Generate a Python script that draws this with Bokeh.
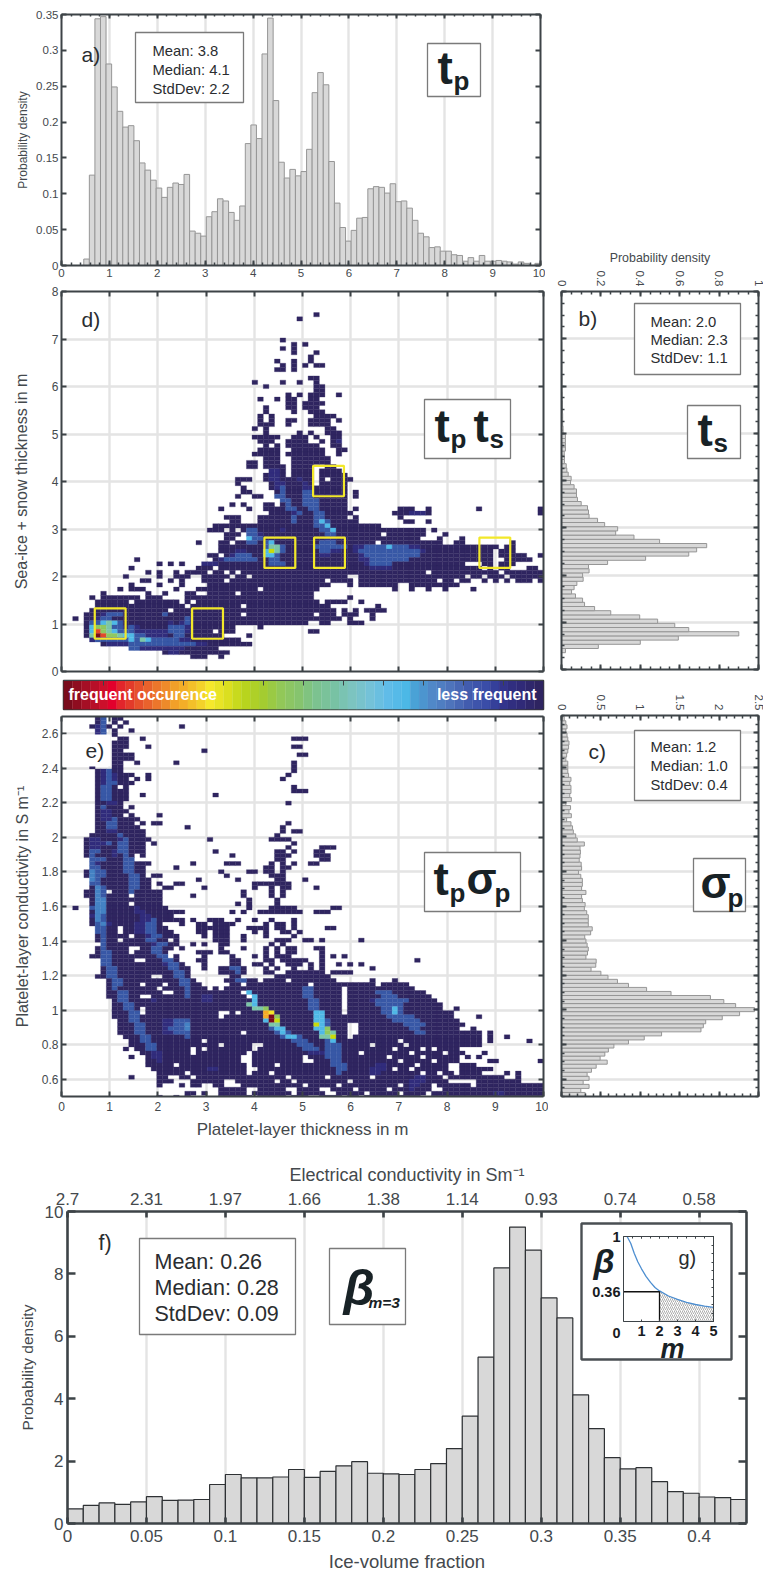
import math
import numpy as np
from bokeh.plotting import figure
from bokeh.models import (Range1d, LinearAxis, FixedTicker, Grid, Label, BoxAnnotation, Column,
                          ColumnDataSource)
from bokeh.embed import file_html
from bokeh.resources import INLINE

FONT = "Liberation Sans"
TXT = "#44494d"
AX = "#3d4347"

# ---------------- histogram values ----------------
TP_DENS = [0, 0, 0, 0, .009, .126, .344, .347, .281, .249, .215, .193, .195, .174, .143, .133, .119, .108, .095, .109,
           .115, .113, .127, .048, .045, .041, .068, .075, .093, .090, .074, .063, .083, .170, .196, .177, .295, .345,
           .230, .144, .122, .134, .125, .131, .162, .241, .269, .252, .145, .087, .053, .034, .049, .066, .067, .107,
           .110, .109, .101, .114, .089, .090, .080, .063, .045, .040, .025, .026, .020, .020, .015, .014, .006, .011,
           .006, .014, .006, .006, .007, .006, .005, .002, .005, .003, 0, .003]
TS_DENS = [0, 0, 0, 0, .02, .187, .40, .593, .90, .646, .575, .488, .397, .25, .168, .117, .107, .071, .051, .064, .078,
           .11, .107, .14, .137, .234, .427, .646, .686, .737, .498, .368, .275, .285, .219, .183, .14, .137, .132, .10,
           .081, .076, .076, .064, .046, .049, .034, .027, .024, .015, .015, .014, .02, .02, .02, .02, .008, .008, .006,
           .006, .006, .005, .005, .005, .004, .004, .003, .003, .003, .003, .002, .002, .002, .002, .002, .002, .001, .001]
SP_DENS = [.30, .245, .35, .275, .35, .325, .38, .44, .58, .49, .55, .595, .665, .85, 1.05, 1.27, 1.77, 1.80, 1.83, 2.04,
           2.26, 2.45, 2.21, 2.06, 1.89, 1.39, 1.08, .85, .71, .59, .50, .375, .435, .44, .31, .33, .34, .325, .31, .295,
           .37, .39, .34, .34, .34, .32, .29, .30, .265, .255, .31, .255, .265, .265, .245, .215, .255, .25, .225, .235,
           .24, .235, .29, .20, .18, .15, .14, .12, .065, .125, .095, .115, .055, .125, .105, .12, .12, .105, .12, .09,
           .08, .08, .08, .055, .065, .08, .09, .095, .08, .07, .055, .07, .055, .035]
BETA_DENS = [.47, .58, .66, .61, .69, .86, .74, .75, .77, 1.25, 1.57, 1.46, 1.46, 1.49, 1.73, 1.48, 1.67, 1.85, 1.98, 1.61,
             1.59, 1.57, 1.73, 1.92, 2.40, 3.44, 5.33, 8.19, 9.50, 8.76, 7.23, 6.59, 4.12, 3.04, 2.11, 1.75, 1.79, 1.34,
             1.02, .97, .85, .83, .77]
TOP_COND = ["2.7", "2.31", "1.97", "1.66", "1.38", "1.14", "0.93", "0.74", "0.58"]
CURVE_M = [.2, .4, .6, .8, 1, 1.25, 1.5, 1.75, 2, 2.5, 3, 3.5, 4, 4.5, 5]
CURVE_B = [1, .92, .80, .70, .62, .53, .46, .40, .36, .30, .26, .225, .20, .18, .165]

# ---------------- 2-D histograms: "a-b" run of level 1, "c" one cell, "c:str" levels from column c ('.'=empty)
LEVEL_COLORS = {"1": "#2f2560", "2": "#312c7c", "3": "#3858a6", "c": "#4482c4", "4": "#4fb8e6", "5": "#7cc6a8", "6": "#8fc860",
                "7": "#c9dc0a", "8": "#f5e62a", "9": "#f6ac25", "a": "#e2482a", "b": "#7a0c1c"}
D_ROWS = {
 84: "45", 83: "42", 78: "39", 77: "41 43", 76: "39 41", 75: "41 45", 74: "44", 73: "38 41 44", 72: "39 41 43 45-46",
 71: "38-39 41", 69: "44-45", 68: "34 39 42 45", 67: "36 45-46", 66: "45-46", 65: "40 42 44-46 49",
 64: "35 38 40-41 44-45", 63: "40-41 43-46", 62: "36 40-41 43-45", 61: "36 41 44-46", 60: "35 37 45-48",
 59: "35 37 40-41 44-47 49", 58: "35-37 40 44-47", 57: "34 36 47-48", 56: "36 42 44 47-49",
 55: "34-38 41-43 45 48-49", 54: "35-37 40-43 46 48-49 49:2", 53: "36 38 40-45 48-49", 52: "35-38 41-46 49-50",
 51: "34-38 40-46 49", 50: "36-38 41-47", 49: "33-34 36-38 41-47", 48: "33-34 36-39 41-44 47-48",
 47: "37-39 41-44 46-49 37:22", 46: "36-39 41-44 46-50 37:22", 45: "31-33 36-44 46 48-51 37:22 41:12",
 44: "31 37-44 46-50 38:22 42:12", 43: "32 37-50 38:23 43:22", 42: "32-33 38-50 52 39:3 43:33",
 41: "31 34-35 38-50 52 38:33 43:33", 40: "39-50 39:33 43:333", 39: "30 32 36-37 39-50 40:3 43:333",
 38: "28 33 36-50 52 60-62 65 74 85 40:33 44:33", 37: "37-51 59-61 62:222 65 85 41:23 45:33",
 36: "29-31 35-50 52 60 41:3 45:33", 35: "30-31 35-52 61-62 65 41:3 45:343",
 34: "27-56 45:334", 33: "26-28 30 32-57 58-64 66 33:33 46:334 39:2",
 32: "29-31 33-53 54-56 58-64 68 33:33 35:2 47:33", 31: "29-30 33-55 56-63 67 71 33:433 47:22",
 30: "24 28-29 31-55 57-67 70-71 80 33:33 36:34 46:333", 29: "28-77 79-80 36:355 39:3 45:333333 52:223333433322",
 28: "28-76 78-80 36:4753 31:22 46:3322 52:2333333333332 77:. ", 27: "26-27 29-76 78-82 85 30:2333 36:443 46:22 53:23333333333",
 26: "13 27-76 79-83 28:2333333 37:33 53:223333333 77:.", 25: "17 19 21 25-71 75-76 78-80 25:222 37:333 54:23333",
 24: "12 24-71 72-79 83-84 55:2222 27:. 75:. 77:. ", 23: "15 17 20 22-25 27-28 30 32-85 65:. 78:.",
 22: "11 17 20-22 25-50 53-85 72:. 75:. 79:. 33:. 30:. ", 21: "14-15 19 21 25-46 48-51 53-66 68-69 71-72 75 77 79 81-83 85 29:. ",
 20: "12 17 21 26-47 51 53-59 62-70", 19: "10 12-14 20 24-45 59 62 65 68 73 35:.", 18: "7 15 18 22-23 26-44 31:.",
 17: "5 7-13 15-17 22-23 24-44 51", 16: "6-11 13-20 22 24-45 47-49 50 53 12:.", 15: "6-21 23-44 45-47 56 32:.",
 14: "5-18 20-48 50 52 54-57", 13: "4-44 46-48 50-52 55 7:2333 18:3 32:. ", 12: "2 4-44 45-49 51 55 6:233 22:3",
 11: "4-43 46-47 51-53 5:33454 10:3 19:2 21:23", 10: "4-30 35 5:4665332 12:32 19:3332",
 9: "4-30 44-45 5:4a654333222222 19:3332 27:.", 8: "4-28 33 5:5ba66544332222 20:33",
 7: "5-31 5:233333343543333322", 6: "7-33 7:1222233333333333322", 5: "12-27 12:3322222222",
 4: "18-29 19:22", 3: "23-25 28"}
E_ROWS = {
 0: "6-7 9-10 7:3", 1: "6-7 9 11 7:3", 2: "5-7 8 10 21 6:23", 3: "6-7 9 12 6:23", 4: "6-7 9 6:23", 5: "10-11 14 41-43",
 6: "9-11", 7: "9-11 15 41-42", 8: "9-10 25", 9: "9-12 42-43", 10: "9-12", 11: "9-10 13 20 41", 12: "5 9-10 41",
 13: "6-10 41 7:23", 14: "6-12 15 40 7:232", 15: "6-11 13 15 39 7:232", 16: "6-12 7:233", 17: "6-9 11 41 7:33",
 18: "6-11 41-43 7:33", 19: "6-11 14 27 7:33", 20: "6-11 7:33", 21: "6-10 40 8:22", 22: "6-10 12 7:3", 23: "6-11 7:22",
 24: "6-10 12 17 7:22", 25: "6-13 7:223", 26: "6-12 14 16-17 40 8:33", 27: "6-13 22 39 8:33", 28: "6-14 39 41-42 8:22",
 29: "5-14 38 10:3", 30: "4-15 26 37-40 5:22 10:23", 31: "4-14 16 41 5:2222 8:3 10:33", 32: "4-14 40 46-48 5:22 10:33",
 33: "4-14 27 38-39 41 45-46 5:33 9:2 10:33", 34: "4-12 14 30 38-40 45-47 5:3 9:2 11:3", 35: "5-12 38-39 46-47 5:333 11:33",
 36: "5-15 23 29-31 37 39 41 44-45 5:32 11:33", 37: "5-14 20 36-37 39-40 5:33 11:33", 38: "4-14 28 33-34 36-37 39 5:c33 11:33",
 39: "4-14 16-17 29 37-39 5:c33 12:33", 40: "5-15 24 31 38-39 43 5:c3 12:33", 41: "5-15 17 20-21 34-40 5:33 12:33",
 42: "5-15 18-19 25 34 37 39-40 45 6:c3 12:33", 43: "4-17 32 37 39 6:c3 12:3 8:.", 44: "4-17 23 32 37 39 6:c3 12:.",
 45: "5-17 33 38 6:cc", 46: "5-17 31 33 38 6:cc 12:.", 47: "2 5-18 33 37-41 48-49 5:3cc 13:2", 48: "5-21 30 32 35-42 45-47 6:cc 13:22",
 49: "5-19 5:2 6:c3 14:22", 50: "5-21 23 26-28 31 34 37 41 6:c3 14:223", 51: "5-17 21 24-25 27-30 36 38-39 41 6:3c 8:2 13:2233",
 52: "6-18 24-29 33-36 38-39 41 47-48 6:33 13:2233 10:.", 53: "6-19 24-25 27-29 34 36 39-40 42 6:33 13:2233 10:.",
 54: "6-20 25 27-29 32 36 41 7:3 12:. 15:233", 55: "6-18 20 27-29 32 38-40 43-44 46 53 7:3 15:33 10:.",
 56: "7-20 23 25 28-29 37 39 7:3 16:233", 57: "6-19 21 28 32 36 38 40-41 45-46 7:3 12:. 13:. 16:33",
 58: "6-18 24-26 28-29 36 38 40-41 46 7:33 16:33 12:.", 59: "5-18 20 25 30 34 36 38-40 46 48 50 7:33 17:33",
 60: "7-20 24-25 30-31 36-37 39-43 46 63 7:33 18:33 13:. 14:.", 61: "7-21 25 30-31 34-35 37 40-42 44 46 49 51 53 7:33 18:233",
 62: "7-22 25 28-32 36 38 41 44 46 55 8:33 19:33 30:33", 63: "7-22 28-32 36-37 40-43 44-46 48-51 8:33 20:33 31:3",
 64: "6-22 30-31 38-47 8:33 20:33 16:. 17:. ", 65: "8-23 29-31 33-48 55 59 9:33 21:33 31:33 35:. 40:. ",
 66: "8-24 30-50 51-55 57-61 9:33 21:33 14:. 18:. 32:. 44:. ", 67: "8-49 51-62 9:3 17:. 22:3 43:33 26:. 28:. ",
 68: "8-49 51-64 10:33 22:3 33:4 43:33 18:. 19:. 32:. 56:3 57:33", 69: "8-49 51-65 10:33 22:3 33:.4 14:. 15:. 25:22 43:33 57:333",
 70: "9-49 51-66 10:33 16:2 34:4 25:22 44:33 55:2333333", 71: "9-49 51-67 11:33 33:54 44:33 50:. 56:33333",
 72: "9-49 51-67 70 11:33 34:556 44:33 57:3343 14:.", 73: "9-49 51-69 12:33 28:. 29:. 31:. 36:98 45:44 57:3343 14:.",
 74: "9-50 51-69 74 12:33 36:9b6 45:44 58:33333 28:.", 75: "10-50 51-70 12:33 36:4b7 45:443 59:33333 22:3 18:2233",
 76: "10-50 53-71 13:33 37:55 45:7 46:4 47:3 61:3333 22:c 18:2233 52:.", 77: "10-50 53-70 73 13:33 37:344 45:446 18:2333 22:c 62:33 51:.",
 78: "10-50 53-74 76 13:33 38:343 46:465 18:2233 22:3 32:. 63:33", 79: "11-74 76 79 14:33 39:3443 46:557 22:3 51:.",
 80: "12-74 76 83 14:33 41:333 47:34 25:. 60:.", 81: "12-74 15:33 42:333 47:333 34:. 28:. 35:. 55:. 61:.",
 82: "11 13-70 15:33 43:333 47:333 23:. 34:. 25:. 59:. 64:. 66:.", 83: "14-71 75 16:22 44:222 47:333 23:. 33:. 53:. 62:. 68:.",
 84: "12 15-70 72 74 16:22 47:333 32:. 33:. 43:. 58:. 64:.", 85: "15-70 76-77 85 17:2 48:33 32:. 33:. 43:. 44:. 60:. 66:.",
 86: "15-68 71-73 48:333 20:. 33:. 38:. 49:3 56:22 63:.", 87: "16-68 71-76 49:33 26:22 33:. 34:. 55:222 59:. 62:.",
 88: "17-74 79 81 49:3 22:. 33:. 37:. 55:22 64:. 67:. 70:.", 89: "12 17-78 81 19:. 20:. 23:. 40:. 47:. 55:. 63:22 68:.",
 90: "17-68 74-81 20:. 21:. 22:. 29:. 30:. 38:. 41:. 51:. 62:222", 91: "17 21 23-72 74-85 25:. 26:. 29:. 30:. 31:. 43:. 49:. 60:. 62:22 66:.",
 92: "28-65 68-85 33:. 34:. 40:. 41:. 46:. 47:. 52:. 58:. 62:2", 93: "22-23 25 28-64 66-85 33:. 41:. 47:. 48:. 54:. 60:. 77:22",
 94: "17 20 22 28-85 34:. 40:. 44:. 45:. 50:. 53:. 64:. 65:. 78:2"}
CBAR_COLORS = ["#7a0c1c", "#8f0d20", "#a50f25", "#b80f28", "#cc0f2b", "#e2002c", "#e2252b", "#e33a2a", "#e6502b", "#e9622c",
               "#ec762b", "#ee8a2a", "#f1a029", "#f3ae28", "#f3c029", "#f3d22a", "#f5e82c", "#e8e426", "#dbdf20", "#c8da1e",
               "#b8d41e", "#aed028", "#a4cc30", "#9aca44", "#92c858", "#8cc664", "#86c46e", "#80c380", "#7cc290", "#7ac29a",
               "#78c2a4", "#7ac3b2", "#7cc4c0", "#78c3cc", "#74c2d8", "#6abfe0", "#60bce8", "#56bae8", "#4cb8e6", "#4aa2d6",
               "#4c95cf", "#5088c8", "#4f7ec2", "#4e74bc", "#4868b5", "#425cae", "#3e54ab", "#3a4da8", "#35409a", "#33348c",
               "#312e80", "#302a78", "#2f276c", "#2e2461"]

# ---------------- layout helpers ----------------
children = []
GEO = {}
PL, PR = 58, 5


def panel(L, T, R, B, xr, yr, pt=30, pb=34):
    p = figure(width=R - L + PL + PR, height=B - T + pt + pb, x_range=Range1d(*xr), y_range=Range1d(*yr),
               toolbar_location=None, output_backend="svg", x_axis_type=None, y_axis_type=None,
               min_border_left=PL, min_border_right=PR, min_border_top=pt, min_border_bottom=pb,
               frame_width=R - L, frame_height=B - T, background_fill_alpha=0, border_fill_alpha=0,
               outline_line_color=None,
               styles={"position": "absolute", "left": f"{L - PL}px", "top": f"{T - pt}px"})
    GEO[id(p)] = (L, T, R, B, xr, yr)
    children.append(p)
    return p


def X(p, px):
    L, T, R, B, xr, yr = GEO[id(p)]
    return xr[0] + (px - L) / (R - L) * (xr[1] - xr[0])


def Y(p, py):
    L, T, R, B, xr, yr = GEO[id(p)]
    return yr[0] + (B - py) / (B - T) * (yr[1] - yr[0])


def txt(p, px, py, s, size, color="#2a2d30", style="normal", align="left"):
    p.add_layout(Label(x=X(p, px), y=Y(p, py), text=s, text_font=FONT, text_font_size=f"{size}px", text_color=color,
                       text_font_style=style, text_baseline="middle", text_align=align))


def box(p, x0, y0, x1, y1, line="#7a7a7a", w=1.3, fill="white", falpha=1.0):
    p.add_layout(BoxAnnotation(left=X(p, x0), right=X(p, x1), top=Y(p, y0), bottom=Y(p, y1), fill_color=fill,
                               fill_alpha=falpha, line_color=line, line_width=w, line_alpha=1))


def axis(p, side, ticks, minor=(), labels=None, size=12, tick_in=5, width=2, label="", lsize=14, standoff=4, lstand=6,
         orient=None, color=TXT, style="normal"):
    kw = dict(ticker=FixedTicker(ticks=list(ticks), minor_ticks=list(minor)), axis_line_color=AX, axis_line_width=width,
              major_tick_line_color=AX, minor_tick_line_color=AX, major_tick_line_width=width,
              minor_tick_line_width=max(1, width - .5), major_tick_in=tick_in, major_tick_out=0,
              minor_tick_in=max(2, tick_in - 2), minor_tick_out=0, major_label_standoff=standoff)
    if labels is None:
        kw.update(major_label_overrides={t: "" for t in ticks}, major_label_text_font_size="1px")
    else:
        kw.update(major_label_overrides={t: s for t, s in zip(ticks, labels)}, major_label_text_font_size=f"{size}px",
                  major_label_text_font=FONT, major_label_text_color=color, major_label_text_font_style=style)
    if label:
        kw.update(axis_label=label, axis_label_text_font=FONT, axis_label_text_font_size=f"{lsize}px",
                  axis_label_text_color=color, axis_label_text_font_style="normal", axis_label_standoff=lstand)
    if orient is not None:
        kw["major_label_orientation"] = orient
    p.add_layout(LinearAxis(**kw), side)


def grid(p, xt=None, yt=None):
    for dim, t in ((0, xt), (1, yt)):
        if t is not None:
            p.add_layout(Grid(dimension=dim, ticker=FixedTicker(ticks=list(t)), grid_line_color="#e4e4e4", grid_line_width=2.4))


def sub_title(p, x0, y0, x1, y1, parts):
    box(p, x0, y0, x1, y1)
    for px, py, s, size in parts:
        txt(p, px, py, s, size, color="#182226", style="bold")


def stats(p, x0, y0, x1, y1, tx, lines, ys, size):
    box(p, x0, y0, x1, y1)
    for s, py in zip(lines, ys):
        txt(p, tx, py, s, size)


def cells(p, rows, nrow_from_top, xbin, ybin, y0):
    left, right, top, bottom, col = [], [], [], [], []
    for r, spec in rows.items():
        cur = {}
        for tok in spec.split():
            if ":" in tok:
                c, s = tok.split(":")
                for i, ch in enumerate(s):
                    if ch == ".":
                        cur.pop(int(c) + i, None)
                    else:
                        cur[int(c) + i] = ch
            elif "-" in tok:
                a, b = tok.split("-")
                for c in range(int(a), int(b) + 1):
                    cur[c] = "1"
            else:
                cur[int(tok)] = "1"
        for c, ch in cur.items():
            left.append(c * xbin)
            right.append((c + 1) * xbin)
            if nrow_from_top:
                top.append(y0 - r * ybin)
                bottom.append(y0 - (r + 1) * ybin)
            else:
                bottom.append(y0 + r * ybin)
                top.append(y0 + (r + 1) * ybin)
            col.append(LEVEL_COLORS[ch])
    src = ColumnDataSource(dict(left=left, right=right, top=top, bottom=bottom, col=col))
    p.quad(left="left", right="right", top="top", bottom="bottom", fill_color="col", line_color="col", line_width=.3, source=src)


TP_BIN = 10 / 86
XT = list(range(11))
HIST_LINE = "#969696"
STAT_SIZE = 14.8

# ---------------- a) ----------------
pa = panel(61, 14, 540, 265, (0, 10), (0, .35), pt=10)
grid(pa, xt=range(1, 10))
ed = np.arange(len(TP_DENS)) * TP_BIN
pa.quad(left=ed, right=ed + TP_BIN, bottom=0, top=TP_DENS, fill_color="#d8d8d8", line_color=HIST_LINE, line_width=1)
yt = [0, .05, .1, .15, .2, .25, .3, .35]
xm = [i * .2 for i in range(51)]
axis(pa, "below", XT, xm, [str(t) for t in XT], size=11.5, standoff=3)
axis(pa, "above", XT, xm, tick_in=4)
axis(pa, "left", yt, [], ["0", "0.05", "0.1", "0.15", "0.2", "0.25", "0.3", "0.35"], size=11.5, standoff=3,
     label="Probability density", lsize=12, lstand=3)
axis(pa, "right", yt, [])
txt(pa, 81, 54, "a)", 21)
stats(pa, 135, 32, 243, 102, 152, ["Mean: 3.8", "Median: 4.1", "StdDev: 2.2"], [50, 69, 88], STAT_SIZE)
sub_title(pa, 427, 43, 480, 96, [(437, 67, "t", 46), (453, 80, "p", 26)])

# ---------------- d) ----------------
pd_ = panel(61, 291, 543, 671, (0, 10), (0, 8))
grid(pd_, xt=range(1, 10), yt=range(1, 8))
cells(pd_, D_ROWS, False, TP_BIN, 8 / 90, 0)
yt = list(range(9))
axis(pd_, "below", XT, [], tick_in=5)
axis(pd_, "above", XT, [])
axis(pd_, "left", yt, [], [str(t) for t in yt], size=12, standoff=3, label="Sea-ice + snow thickness in m", lsize=16, lstand=19)
axis(pd_, "right", yt, [])
for x0, y0 in [(.69, .69), (2.71, .69), (4.21, 2.18), (5.24, 2.18), (8.67, 2.18), (5.22, 3.69)]:
    pd_.add_layout(BoxAnnotation(left=x0, right=x0 + .64, bottom=y0, top=y0 + .64, fill_alpha=0, line_color="#f2e82a",
                                 line_alpha=1, line_width=2.2))
txt(pd_, 81, 319, "d)", 21)
sub_title(pd_, 424, 399, 510, 458, [(434, 425, "t", 46), (450, 438, "p", 26), (473, 425, "t", 46), (489, 438, "s", 26)])

# ---------------- colour bar ----------------
pc_ = panel(63, 680, 543, 709, (0, 12), (0, 1), pt=4, pb=4)
pc_.outline_line_color = "#3a3a3a"
pc_.outline_line_width = 1.5
w = 12 / len(CBAR_COLORS)
e = np.arange(len(CBAR_COLORS)) * w
pc_.quad(left=e, right=e + w, bottom=0, top=1, fill_color=CBAR_COLORS, line_color=CBAR_COLORS, line_width=.3)
ct = list(range(1, 12))
axis(pc_, "above", ct, [], tick_in=5, width=1)
txt(pc_, 68, 694, "frequent occurence", 16, color="white", style="bold")
txt(pc_, 536, 694, "less frequent", 16, color="white", style="bold", align="right")

# ---------------- e) ----------------
pe = panel(61, 716, 543, 1096, (0, 10), (.5, 2.7), pb=50)
yv = [.6 + .2 * i for i in range(11)]
grid(pe, xt=range(1, 10), yt=yv)
cells(pe, E_ROWS, True, TP_BIN, 2.2 / 94.3, 2.7)
axis(pe, "below", XT, [], [str(t) for t in XT], size=12, standoff=5, label="Platelet-layer thickness in m", lsize=17, lstand=6)
axis(pe, "above", XT, [])
axis(pe, "left", yv, [], ["0.6", "0.8", "1", "1.2", "1.4", "1.6", "1.8", "2", "2.2", "2.4", "2.6"], size=12, standoff=3,
     label="Platelet-layer conductivity in S m\u207b\u00b9", lsize=16, lstand=8)
axis(pe, "right", yv, [])
box(pe, 62, 734, 110, 766, line=None)
txt(pe, 85, 750, "e)", 21)
sub_title(pe, 424, 852, 520, 911, [(433, 878, "t", 46), (449, 892, "p", 26), (466, 878, "\u03c3", 44), (494, 892, "p", 26)])

# ---------------- b) ----------------
pb_ = panel(561, 291, 758, 669, (0, 1), (0, 8), pt=46, pb=6)
grid(pb_, yt=range(1, 8))
ed = np.arange(len(TS_DENS)) * 8 / 90
pb_.quad(left=0, right=TS_DENS, bottom=ed, top=ed + 8 / 90, fill_color="#d8d8d8", line_color=HIST_LINE, line_width=1)
bt = [0, .2, .4, .6, .8, 1]
bm = [i * .05 for i in range(21)]
ym = [i * .25 for i in range(33)]
axis(pb_, "above", bt, bm, ["0", "0.2", "0.4", "0.6", "0.8", "1"], size=11.5, standoff=5, orient=-math.pi / 2,
     label="Probability density", lsize=12.4, lstand=3)
axis(pb_, "below", bt, bm)
yt = list(range(9))
axis(pb_, "left", yt, ym)
axis(pb_, "right", yt, ym)
txt(pb_, 578, 318, "b)", 21)
stats(pb_, 634, 303, 740, 374, 650, ["Mean: 2.0", "Median: 2.3", "StdDev: 1.1"], [321, 339, 357], STAT_SIZE)
sub_title(pb_, 687, 405, 740, 458, [(697, 429, "t", 46), (713, 442, "s", 26)])

# ---------------- c) ----------------
pc = panel(561, 715, 758, 1096, (0, 2.5), (.5, 2.7), pt=26, pb=6)
grid(pc, yt=yv)
ed = .5 + np.arange(len(SP_DENS)) * 2.2 / 94.3
pc.quad(left=0, right=SP_DENS, bottom=ed, top=ed + 2.2 / 94.3, fill_color="#d8d8d8", line_color=HIST_LINE, line_width=1)
ct = [0, .5, 1, 1.5, 2, 2.5]
cm = [i * .1 for i in range(26)]
ym = [.5 + i * .05 for i in range(45)]
axis(pc, "above", ct, cm, ["0", "0.5", "1", "1.5", "2", "2.5"], size=11.5, standoff=5, orient=-math.pi / 2)
axis(pc, "below", ct, cm)
axis(pc, "left", yv, ym)
axis(pc, "right", yv, ym)
txt(pc, 588, 751, "c)", 21)
stats(pc, 634, 730, 740, 800, 650, ["Mean: 1.2", "Median: 1.0", "StdDev: 0.4"], [746, 765, 784], STAT_SIZE)
sub_title(pc, 693, 858, 745, 911, [(700, 882, "\u03c3", 44), (727, 897, "p", 26)])

# ---------------- f) ----------------
pf = panel(67, 1211, 746, 1523, (0, .43), (0, 10), pt=56, pb=48)
ft = [.05 * i for i in range(9)]
grid(pf, xt=ft[1:])
ed = np.arange(len(BETA_DENS)) * .01
pf.quad(left=ed, right=ed + .01, bottom=0, top=BETA_DENS, fill_color="#d8d8d8", line_color="#2e3134", line_width=1.2)
axis(pf, "below", ft, [], ["0", "0.05", "0.1", "0.15", "0.2", "0.25", "0.3", "0.35", "0.4"], size=17, standoff=6,
     label="Ice-volume fraction", lsize=18.5, lstand=6, tick_in=6, width=2.6)
axis(pf, "above", ft, [], TOP_COND, size=17, standoff=7, label="Electrical conductivity in Sm\u207b\u00b9", lsize=18, lstand=5, tick_in=6, width=2.6)
fy = [0, 2, 4, 6, 8, 10]
axis(pf, "left", fy, [], [str(t) for t in fy], size=17, standoff=4, label="Probability density", lsize=15.5, lstand=6, tick_in=8, width=2.6)
axis(pf, "right", fy, [], tick_in=8, width=2.6)
txt(pf, 98, 1242, "f)", 21.5)
stats(pf, 139, 1238, 295, 1334, 154, ["Mean: 0.26", "Median: 0.28", "StdDev: 0.09"], [1261, 1287, 1313], 21.5)
box(pf, 329, 1248, 405, 1324)
txt(pf, 343, 1287, "\u03b2", 50, color="#182226", style="bold italic")
txt(pf, 368, 1302, "m=3", 15.5, color="#182226", style="bold italic")
box(pf, 581, 1223, 731, 1359, line="#4a4f53", w=2.4)
txt(pf, 620, 1332, "0", 14.5, color="#181c1f", style="bold", align="right")
txt(pf, 593, 1260, "\u03b2", 34, color="#182226", style="bold italic")
txt(pf, 660, 1348, "m", 27, color="#182226", style="bold italic")

# ---------------- g) inset ----------------
pg = panel(623, 1236, 713, 1321, (0, 5), (0, 1), pt=6, pb=32)
xg, yg = [2, 2.5, 3, 3.5, 4, 4.5, 5], [.36, .30, .26, .225, .20, .18, .165]
pg.varea(x=xg, y1=[0] * len(xg), y2=yg, fill_alpha=0, hatch_pattern="right_diagonal_line", hatch_color="#8a8a8a",
         hatch_scale=4, hatch_weight=.7)
pg.line(CURVE_M, CURVE_B, line_color="#4d8ed0", line_width=1.3)
pg.line([0, 2, 2], [.35, .35, 0], line_color="#111111", line_width=1.3)
gx = [1, 2, 3, 4, 5]
axis(pg, "below", [0] + gx, [], ["", "1", "2", "3", "4", "5"], size=14.5, standoff=4, tick_in=2, width=1, color="#181c1f", style="bold")
axis(pg, "above", [0] + gx, [i * .5 for i in range(11)], tick_in=2, width=1)
axis(pg, "left", [.35, 1], [], ["0.36", "1"], size=14.5, standoff=3, tick_in=0, width=1, color="#181c1f", style="bold")
axis(pg, "right", [0, 1], [i * .1 for i in range(11)], tick_in=2, width=1)
txt(pg, 678, 1257, "g)", 20)

root = Column(children=children, width=748, height=1556, sizing_mode="fixed")
open("out.html", "w").write(file_html(root, INLINE))
